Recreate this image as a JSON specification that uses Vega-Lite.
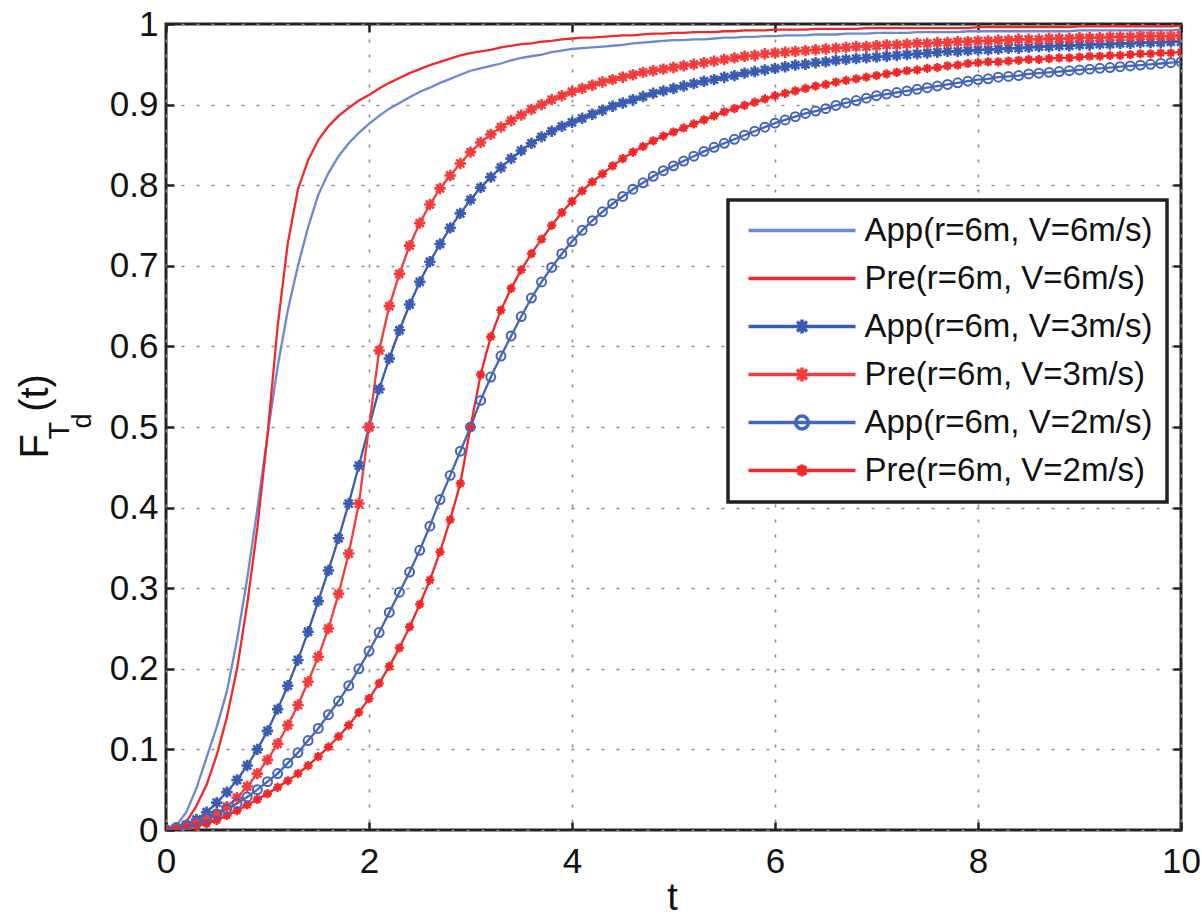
{
  "$schema": "https://vega.github.io/schema/vega-lite/v6.json",
  "width": 1015,
  "height": 806,
  "autosize": {"type": "none"},
  "padding": {"left": 166, "top": 24, "right": 21, "bottom": 88},
  "background": "#ffffff",
  "config": {
    "view": {"stroke": "#222222", "strokeWidth": 3},
    "font": "Liberation Sans",
    "legend": {
      "padding": 14,
      "strokeColor": "#222222",
      "strokeWidth": 3.5,
      "fillColor": "#ffffff",
      "labelFont": "Liberation Sans",
      "labelFontSize": 33,
      "labelColor": "#111111",
      "labelLimit": 0,
      "rowPadding": 14,
      "symbolSize": 458,
      "symbolStrokeWidth": 3.5,
      "symbolOffset": 43.5,
      "labelOffset": 46,
      "symbolFillColor": "transparent"
    }
  },
  "datasets": {
    "names": [
      {"k": "A6", "series": "App(r=6m, V=6m/s)"},
      {"k": "P6", "series": "Pre(r=6m, V=6m/s)"},
      {"k": "A3", "series": "App(r=6m, V=3m/s)"},
      {"k": "P3", "series": "Pre(r=6m, V=3m/s)"},
      {"k": "A2", "series": "App(r=6m, V=2m/s)"},
      {"k": "P2", "series": "Pre(r=6m, V=2m/s)"}
    ],
    "curves": [
      {"t":0,"A6":0,"P6":0,"A3":0,"P3":0,"A2":0,"P2":0},
      {"t":0.1,"A6":0.005,"P6":0.002,"A3":0.002,"P3":0.001,"A2":0.003,"P2":0.001},
      {"t":0.2,"A6":0.022,"P6":0.01,"A3":0.006,"P3":0.004,"A2":0.006,"P2":0.003},
      {"t":0.3,"A6":0.052,"P6":0.03,"A3":0.013,"P3":0.008,"A2":0.01,"P2":0.005},
      {"t":0.4,"A6":0.09,"P6":0.056,"A3":0.022,"P3":0.013,"A2":0.015,"P2":0.008},
      {"t":0.5,"A6":0.128,"P6":0.093,"A3":0.034,"P3":0.02,"A2":0.02,"P2":0.012},
      {"t":0.6,"A6":0.172,"P6":0.14,"A3":0.047,"P3":0.029,"A2":0.026,"P2":0.018},
      {"t":0.7,"A6":0.236,"P6":0.2,"A3":0.062,"P3":0.04,"A2":0.033,"P2":0.024},
      {"t":0.8,"A6":0.312,"P6":0.28,"A3":0.08,"P3":0.054,"A2":0.041,"P2":0.031},
      {"t":0.9,"A6":0.398,"P6":0.375,"A3":0.1,"P3":0.07,"A2":0.05,"P2":0.038},
      {"t":1.0,"A6":0.49,"P6":0.49,"A3":0.123,"P3":0.087,"A2":0.06,"P2":0.045},
      {"t":1.1,"A6":0.575,"P6":0.625,"A3":0.15,"P3":0.107,"A2":0.07,"P2":0.053},
      {"t":1.2,"A6":0.645,"P6":0.728,"A3":0.179,"P3":0.13,"A2":0.083,"P2":0.061},
      {"t":1.3,"A6":0.7,"P6":0.795,"A3":0.211,"P3":0.155,"A2":0.096,"P2":0.07},
      {"t":1.4,"A6":0.748,"P6":0.831,"A3":0.246,"P3":0.184,"A2":0.111,"P2":0.08},
      {"t":1.5,"A6":0.788,"P6":0.856,"A3":0.284,"P3":0.215,"A2":0.126,"P2":0.091},
      {"t":1.6,"A6":0.815,"P6":0.873,"A3":0.322,"P3":0.25,"A2":0.143,"P2":0.103},
      {"t":1.7,"A6":0.836,"P6":0.886,"A3":0.362,"P3":0.293,"A2":0.16,"P2":0.116},
      {"t":1.8,"A6":0.852,"P6":0.896,"A3":0.405,"P3":0.343,"A2":0.179,"P2":0.13},
      {"t":1.9,"A6":0.865,"P6":0.905,"A3":0.452,"P3":0.405,"A2":0.2,"P2":0.146},
      {"t":2.0,"A6":0.876,"P6":0.912,"A3":0.5,"P3":0.5,"A2":0.222,"P2":0.163},
      {"t":2.1,"A6":0.886,"P6":0.92,"A3":0.547,"P3":0.595,"A2":0.245,"P2":0.182},
      {"t":2.2,"A6":0.895,"P6":0.927,"A3":0.585,"P3":0.65,"A2":0.27,"P2":0.203},
      {"t":2.3,"A6":0.902,"P6":0.933,"A3":0.62,"P3":0.69,"A2":0.295,"P2":0.226},
      {"t":2.4,"A6":0.909,"P6":0.939,"A3":0.652,"P3":0.725,"A2":0.32,"P2":0.252},
      {"t":2.5,"A6":0.916,"P6":0.944,"A3":0.68,"P3":0.753,"A2":0.347,"P2":0.28},
      {"t":2.6,"A6":0.921,"P6":0.949,"A3":0.705,"P3":0.776,"A2":0.377,"P2":0.31},
      {"t":2.7,"A6":0.927,"P6":0.953,"A3":0.727,"P3":0.796,"A2":0.41,"P2":0.345},
      {"t":2.8,"A6":0.932,"P6":0.957,"A3":0.747,"P3":0.812,"A2":0.44,"P2":0.385},
      {"t":2.9,"A6":0.937,"P6":0.961,"A3":0.765,"P3":0.827,"A2":0.47,"P2":0.43},
      {"t":3.0,"A6":0.942,"P6":0.964,"A3":0.782,"P3":0.841,"A2":0.5,"P2":0.5},
      {"t":3.1,"A6":0.945,"P6":0.966,"A3":0.797,"P3":0.853,"A2":0.533,"P2":0.565},
      {"t":3.2,"A6":0.948,"P6":0.968,"A3":0.81,"P3":0.863,"A2":0.562,"P2":0.612},
      {"t":3.3,"A6":0.951,"P6":0.971,"A3":0.822,"P3":0.872,"A2":0.588,"P2":0.645},
      {"t":3.4,"A6":0.955,"P6":0.973,"A3":0.833,"P3":0.88,"A2":0.613,"P2":0.672},
      {"t":3.5,"A6":0.958,"P6":0.975,"A3":0.843,"P3":0.887,"A2":0.637,"P2":0.695},
      {"t":3.6,"A6":0.96,"P6":0.976,"A3":0.852,"P3":0.894,"A2":0.66,"P2":0.715},
      {"t":3.7,"A6":0.962,"P6":0.978,"A3":0.86,"P3":0.9,"A2":0.68,"P2":0.733},
      {"t":3.8,"A6":0.965,"P6":0.979,"A3":0.867,"P3":0.906,"A2":0.698,"P2":0.75},
      {"t":3.9,"A6":0.967,"P6":0.981,"A3":0.873,"P3":0.911,"A2":0.715,"P2":0.766},
      {"t":4.0,"A6":0.969,"P6":0.982,"A3":0.878,"P3":0.916,"A2":0.73,"P2":0.78},
      {"t":4.1,"A6":0.97,"P6":0.983,"A3":0.883,"P3":0.92,"A2":0.744,"P2":0.793},
      {"t":4.2,"A6":0.971,"P6":0.983,"A3":0.888,"P3":0.924,"A2":0.756,"P2":0.804},
      {"t":4.3,"A6":0.972,"P6":0.984,"A3":0.893,"P3":0.928,"A2":0.767,"P2":0.814},
      {"t":4.4,"A6":0.973,"P6":0.985,"A3":0.898,"P3":0.931,"A2":0.777,"P2":0.824},
      {"t":4.5,"A6":0.974,"P6":0.986,"A3":0.902,"P3":0.934,"A2":0.786,"P2":0.833},
      {"t":4.6,"A6":0.976,"P6":0.986,"A3":0.906,"P3":0.937,"A2":0.795,"P2":0.841},
      {"t":4.7,"A6":0.977,"P6":0.987,"A3":0.91,"P3":0.94,"A2":0.803,"P2":0.848},
      {"t":4.8,"A6":0.978,"P6":0.988,"A3":0.914,"P3":0.942,"A2":0.811,"P2":0.855},
      {"t":4.9,"A6":0.979,"P6":0.988,"A3":0.917,"P3":0.944,"A2":0.818,"P2":0.861},
      {"t":5.0,"A6":0.98,"P6":0.989,"A3":0.92,"P3":0.946,"A2":0.824,"P2":0.866},
      {"t":5.1,"A6":0.98,"P6":0.989,"A3":0.923,"P3":0.948,"A2":0.83,"P2":0.871},
      {"t":5.2,"A6":0.981,"P6":0.99,"A3":0.926,"P3":0.95,"A2":0.836,"P2":0.876},
      {"t":5.3,"A6":0.981,"P6":0.99,"A3":0.929,"P3":0.952,"A2":0.842,"P2":0.881},
      {"t":5.4,"A6":0.982,"P6":0.99,"A3":0.931,"P3":0.954,"A2":0.847,"P2":0.886},
      {"t":5.5,"A6":0.983,"P6":0.991,"A3":0.934,"P3":0.956,"A2":0.852,"P2":0.891},
      {"t":5.6,"A6":0.983,"P6":0.991,"A3":0.936,"P3":0.958,"A2":0.857,"P2":0.895},
      {"t":5.7,"A6":0.984,"P6":0.992,"A3":0.939,"P3":0.96,"A2":0.862,"P2":0.899},
      {"t":5.8,"A6":0.984,"P6":0.992,"A3":0.941,"P3":0.961,"A2":0.867,"P2":0.903},
      {"t":5.9,"A6":0.985,"P6":0.992,"A3":0.943,"P3":0.963,"A2":0.872,"P2":0.907},
      {"t":6.0,"A6":0.985,"P6":0.993,"A3":0.945,"P3":0.964,"A2":0.877,"P2":0.911},
      {"t":6.1,"A6":0.986,"P6":0.993,"A3":0.947,"P3":0.965,"A2":0.881,"P2":0.914},
      {"t":6.2,"A6":0.986,"P6":0.993,"A3":0.949,"P3":0.966,"A2":0.885,"P2":0.917},
      {"t":6.3,"A6":0.986,"P6":0.993,"A3":0.95,"P3":0.967,"A2":0.889,"P2":0.92},
      {"t":6.4,"A6":0.987,"P6":0.994,"A3":0.952,"P3":0.968,"A2":0.892,"P2":0.923},
      {"t":6.5,"A6":0.987,"P6":0.994,"A3":0.953,"P3":0.969,"A2":0.895,"P2":0.925},
      {"t":6.6,"A6":0.987,"P6":0.994,"A3":0.955,"P3":0.97,"A2":0.899,"P2":0.928},
      {"t":6.7,"A6":0.988,"P6":0.994,"A3":0.956,"P3":0.971,"A2":0.902,"P2":0.93},
      {"t":6.8,"A6":0.988,"P6":0.994,"A3":0.957,"P3":0.972,"A2":0.905,"P2":0.932},
      {"t":6.9,"A6":0.988,"P6":0.995,"A3":0.958,"P3":0.972,"A2":0.908,"P2":0.934},
      {"t":7.0,"A6":0.989,"P6":0.995,"A3":0.959,"P3":0.973,"A2":0.911,"P2":0.936},
      {"t":7.1,"A6":0.989,"P6":0.995,"A3":0.96,"P3":0.974,"A2":0.913,"P2":0.938},
      {"t":7.2,"A6":0.989,"P6":0.995,"A3":0.961,"P3":0.974,"A2":0.915,"P2":0.94},
      {"t":7.3,"A6":0.989,"P6":0.995,"A3":0.962,"P3":0.975,"A2":0.917,"P2":0.942},
      {"t":7.4,"A6":0.99,"P6":0.995,"A3":0.963,"P3":0.976,"A2":0.919,"P2":0.943},
      {"t":7.5,"A6":0.99,"P6":0.995,"A3":0.964,"P3":0.976,"A2":0.921,"P2":0.945},
      {"t":7.6,"A6":0.99,"P6":0.995,"A3":0.965,"P3":0.977,"A2":0.923,"P2":0.946},
      {"t":7.7,"A6":0.99,"P6":0.995,"A3":0.966,"P3":0.977,"A2":0.925,"P2":0.948},
      {"t":7.8,"A6":0.99,"P6":0.995,"A3":0.966,"P3":0.978,"A2":0.927,"P2":0.949},
      {"t":7.9,"A6":0.991,"P6":0.995,"A3":0.967,"P3":0.978,"A2":0.929,"P2":0.951},
      {"t":8.0,"A6":0.991,"P6":0.996,"A3":0.968,"P3":0.979,"A2":0.931,"P2":0.952},
      {"t":8.1,"A6":0.991,"P6":0.996,"A3":0.968,"P3":0.979,"A2":0.932,"P2":0.953},
      {"t":8.2,"A6":0.991,"P6":0.996,"A3":0.969,"P3":0.98,"A2":0.934,"P2":0.953},
      {"t":8.3,"A6":0.991,"P6":0.996,"A3":0.97,"P3":0.98,"A2":0.935,"P2":0.954},
      {"t":8.4,"A6":0.991,"P6":0.996,"A3":0.97,"P3":0.981,"A2":0.936,"P2":0.955},
      {"t":8.5,"A6":0.991,"P6":0.996,"A3":0.971,"P3":0.981,"A2":0.938,"P2":0.956},
      {"t":8.6,"A6":0.991,"P6":0.996,"A3":0.972,"P3":0.981,"A2":0.939,"P2":0.956},
      {"t":8.7,"A6":0.991,"P6":0.996,"A3":0.972,"P3":0.982,"A2":0.94,"P2":0.957},
      {"t":8.8,"A6":0.991,"P6":0.996,"A3":0.973,"P3":0.982,"A2":0.941,"P2":0.958},
      {"t":8.9,"A6":0.991,"P6":0.996,"A3":0.973,"P3":0.982,"A2":0.942,"P2":0.958},
      {"t":9.0,"A6":0.992,"P6":0.997,"A3":0.974,"P3":0.983,"A2":0.943,"P2":0.959},
      {"t":9.1,"A6":0.992,"P6":0.997,"A3":0.974,"P3":0.983,"A2":0.944,"P2":0.96},
      {"t":9.2,"A6":0.992,"P6":0.997,"A3":0.975,"P3":0.983,"A2":0.945,"P2":0.96},
      {"t":9.3,"A6":0.992,"P6":0.997,"A3":0.975,"P3":0.984,"A2":0.946,"P2":0.961},
      {"t":9.4,"A6":0.992,"P6":0.997,"A3":0.976,"P3":0.984,"A2":0.947,"P2":0.961},
      {"t":9.5,"A6":0.992,"P6":0.997,"A3":0.976,"P3":0.984,"A2":0.948,"P2":0.962},
      {"t":9.6,"A6":0.992,"P6":0.997,"A3":0.977,"P3":0.985,"A2":0.949,"P2":0.963},
      {"t":9.7,"A6":0.992,"P6":0.997,"A3":0.977,"P3":0.985,"A2":0.95,"P2":0.963},
      {"t":9.8,"A6":0.992,"P6":0.997,"A3":0.977,"P3":0.985,"A2":0.951,"P2":0.964},
      {"t":9.9,"A6":0.992,"P6":0.997,"A3":0.978,"P3":0.985,"A2":0.952,"P2":0.964},
      {"t":10,"A6":0.993,"P6":0.998,"A3":0.978,"P3":0.986,"A2":0.953,"P2":0.965}
    ]
  },
  "data": {"name": "curves"},
  "transform": [
    {"fold": ["A6", "P6", "A3", "P3", "A2", "P2"], "as": ["k", "F"]},
    {"lookup": "k", "from": {"data": {"name": "names"}, "key": "k", "fields": ["series"]}}
  ],
  "resolve": {"axis": {"x": "independent", "y": "independent"}},
  "layer": [
    {
      "mark": {"type": "line", "strokeWidth": 2.3, "clip": true},
      "encoding": {
        "x": {
          "field": "t", "type": "quantitative",
          "scale": {"domain": [0, 10], "nice": false, "zero": false},
          "axis": {
            "orient": "bottom", "values": [0, 2, 4, 6, 8, 10], "format": "d",
            "grid": true, "gridColor": "#8c8c8c", "gridDash": [3, 12], "gridWidth": 1.6, "gridOpacity": 1,
            "domain": false, "ticks": true, "tickSize": -8, "tickWidth": 2.5, "tickColor": "#222222",
            "labelFlush": false, "labelPadding": 22, "labelFont": "Liberation Sans", "labelFontSize": 35, "labelColor": "#111111",
            "title": "t", "titleFont": "Liberation Sans", "titleFontSize": 38, "titleFontWeight": "normal", "titleColor": "#111111",
            "titleX": 506, "titleY": 79, "titleAlign": "center", "titleBaseline": "alphabetic", "titleAngle": 0
          }
        },
        "y": {
          "field": "F", "type": "quantitative",
          "scale": {"domain": [0, 1], "nice": false},
          "axis": {
            "orient": "left", "values": [0, 0.1, 0.2, 0.3, 0.4, 0.5, 0.6, 0.7, 0.8, 0.9, 1], "format": ".1~f",
            "grid": true, "gridColor": "#8c8c8c", "gridDash": [3, 12], "gridWidth": 1.6, "gridOpacity": 1,
            "domain": false, "ticks": true, "tickSize": -8, "tickWidth": 2.5, "tickColor": "#222222",
            "labelFlush": false, "labelPadding": 16, "labelFont": "Liberation Sans", "labelFontSize": 35, "labelColor": "#111111",
            "title": "F\u00a0\u00a0(t)", "titleFont": "Liberation Sans", "titleFontSize": 40, "titleFontWeight": "normal", "titleColor": "#111111",
            "titleX": -119, "titleY": 434, "titleAngle": 270, "titleAlign": "left", "titleBaseline": "alphabetic"
          }
        },
        "color": {
          "field": "series", "type": "nominal",
          "scale": {
            "domain": ["App(r=6m, V=6m/s)", "Pre(r=6m, V=6m/s)", "App(r=6m, V=3m/s)", "Pre(r=6m, V=3m/s)", "App(r=6m, V=2m/s)", "Pre(r=6m, V=2m/s)"],
            "range": ["#6a89d0", "#f22828", "#3a5bb2", "#f43c3c", "#4465b9", "#f22828"]
          },
          "legend": {"title": null, "orient": "none", "legendX": 562, "legendY": 176}
        }
      }
    },
    {
      "transform": [{"filter": {"field": "k", "oneOf": ["A3", "P3"]}}],
      "mark": {"type": "point", "shape": "M-1,0H1M0,-1V1M-0.7,-0.7L0.7,0.7M-0.7,0.7L0.7,-0.7", "size": 130, "strokeWidth": 2.6, "filled": false, "opacity": 1, "clip": true},
      "encoding": {
        "x": {"field": "t", "type": "quantitative", "axis": null},
        "y": {"field": "F", "type": "quantitative", "axis": null},
        "color": {"field": "series", "type": "nominal"}
      }
    },
    {
      "transform": [{"filter": {"field": "k", "oneOf": ["P2"]}}],
      "mark": {"type": "point", "shape": "M-1,0H1M0,-1V1M-0.7,-0.7L0.7,0.7M-0.7,0.7L0.7,-0.7", "size": 85, "strokeWidth": 2.3, "filled": false, "opacity": 1, "clip": true},
      "encoding": {
        "x": {"field": "t", "type": "quantitative", "axis": null},
        "y": {"field": "F", "type": "quantitative", "axis": null},
        "color": {"field": "series", "type": "nominal"}
      }
    },
    {
      "transform": [{"filter": {"field": "k", "oneOf": ["A2"]}}],
      "mark": {"type": "point", "shape": "circle", "size": 80, "strokeWidth": 2, "filled": false, "opacity": 1, "clip": true},
      "encoding": {
        "x": {"field": "t", "type": "quantitative", "axis": null},
        "y": {"field": "F", "type": "quantitative", "axis": null},
        "color": {"field": "series", "type": "nominal"}
      }
    },
    {
      "transform": [{"filter": "false"}],
      "mark": {"type": "point", "filled": false, "opacity": 1},
      "encoding": {
        "x": {
          "field": "t", "type": "quantitative",
          "scale": {"domain": [0, 10], "nice": false, "zero": false},
          "axis": {
            "orient": "top", "values": [0, 2, 4, 6, 8, 10], "labels": false, "grid": false, "domain": false,
            "ticks": true, "tickSize": -8, "tickWidth": 2.5, "tickColor": "#222222",
            "title": "d", "titleFont": "Liberation Sans", "titleFontSize": 27, "titleFontWeight": "normal", "titleColor": "#111111",
            "titleX": -76, "titleY": 404, "titleAngle": 270, "titleAlign": "left", "titleBaseline": "alphabetic"
          }
        },
        "y": {
          "field": "F", "type": "quantitative",
          "scale": {"domain": [0, 1], "nice": false},
          "axis": {
            "orient": "right", "values": [0, 0.1, 0.2, 0.3, 0.4, 0.5, 0.6, 0.7, 0.8, 0.9, 1], "labels": false, "grid": false, "domain": false,
            "ticks": true, "tickSize": -8, "tickWidth": 2.5, "tickColor": "#222222",
            "title": "T", "titleFont": "Liberation Sans", "titleFontSize": 29, "titleFontWeight": "normal", "titleColor": "#111111",
            "titleX": -1113, "titleY": 415, "titleAngle": 270, "titleAlign": "left", "titleBaseline": "alphabetic"
          }
        },
        "color": {"field": "series", "type": "nominal"},
        "shape": {
          "field": "series", "type": "nominal",
          "scale": {
            "domain": ["App(r=6m, V=6m/s)", "Pre(r=6m, V=6m/s)", "App(r=6m, V=3m/s)", "Pre(r=6m, V=3m/s)", "App(r=6m, V=2m/s)", "Pre(r=6m, V=2m/s)"],
            "range": [
              "M-5,0H5",
              "M-5,0H5",
              "M-5,0H5M0,-0.65V0.65M-0.46,-0.46L0.46,0.46M-0.46,0.46L0.46,-0.46",
              "M-5,0H5M0,-0.65V0.65M-0.46,-0.46L0.46,0.46M-0.46,0.46L0.46,-0.46",
              "M-5,0H5M0.6,0A0.6,0.6 0 1,1 -0.6,0A0.6,0.6 0 1,1 0.6,0",
              "M-5,0H5M0,-0.55V0.55M-0.39,-0.39L0.39,0.39M-0.39,0.39L0.39,-0.39"
            ]
          },
          "legend": {"title": null, "orient": "none", "legendX": 562, "legendY": 176}
        }
      }
    }
  ]
}
